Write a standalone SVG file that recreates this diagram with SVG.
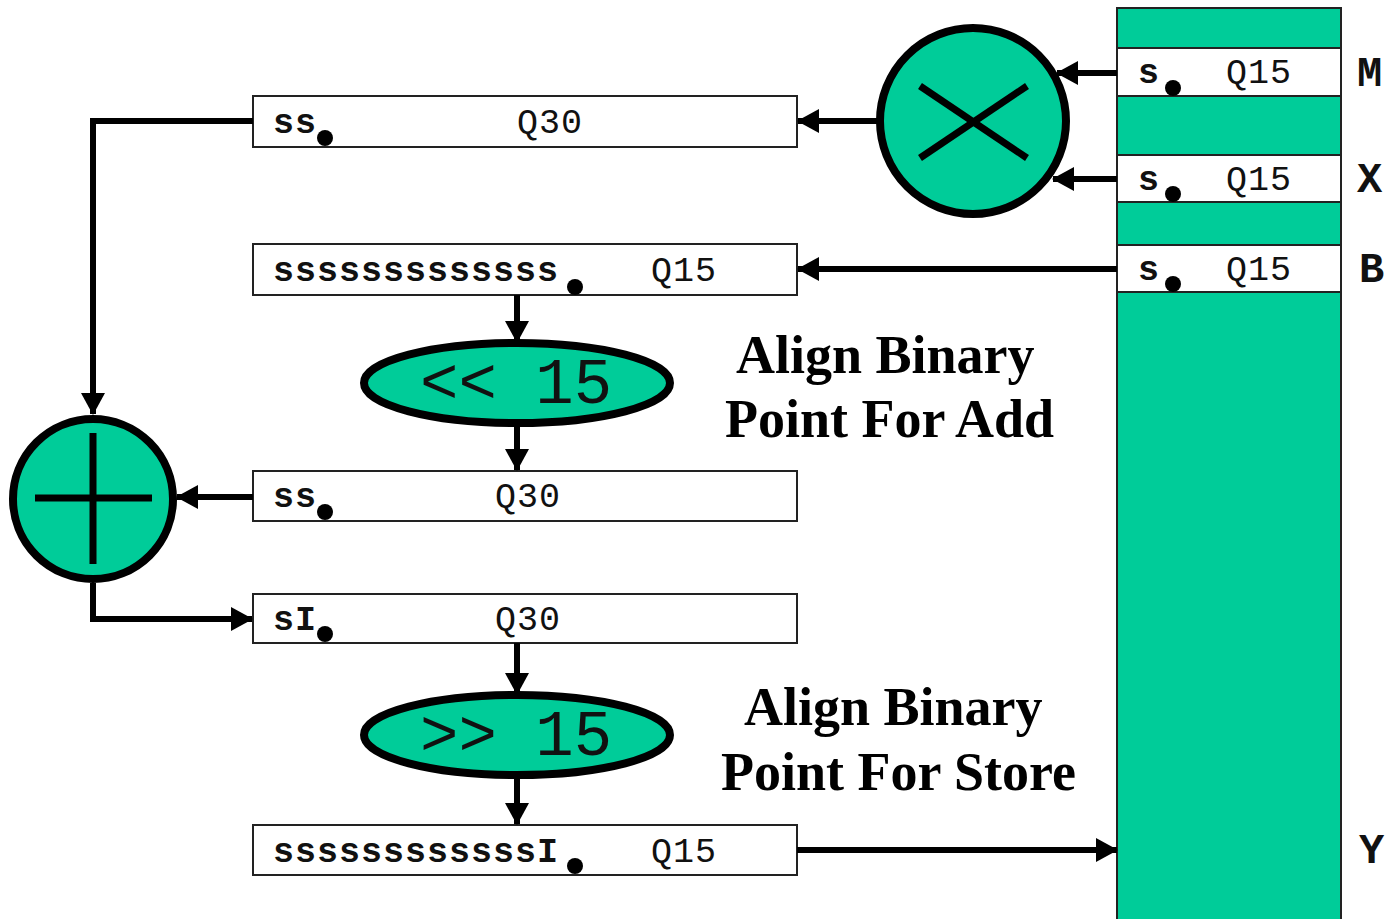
<svg xmlns="http://www.w3.org/2000/svg" width="1393" height="919" viewBox="0 0 1393 919">
<defs>
<marker id="ah" markerUnits="userSpaceOnUse" markerWidth="24" markerHeight="24" viewBox="0 0 22 24" refX="21" refY="12" orient="auto">
<path d="M0,0 L22,12 L0,24 Z" fill="#000"/>
</marker>
</defs>
<style>
.box{fill:#fff;stroke:#222;stroke-width:2}
.mem{fill:#00CC99;stroke:#222;stroke-width:2}
.op{fill:#00CC99;stroke:#000;stroke-width:8}
.sym{stroke:#000;stroke-width:7;fill:none}
.con{stroke:#000;stroke-width:6;fill:none}
.arr{stroke:#000;stroke-width:6;fill:none;marker-end:url(#ah)}
.bits{font-family:"Liberation Mono","Courier New",monospace;font-size:35px;font-weight:bold;letter-spacing:1px;fill:#111}
.q{font-family:"Liberation Mono","Courier New",monospace;font-size:35px;letter-spacing:1px;fill:#111}
.lbl{font-family:"Liberation Mono","Courier New",monospace;font-size:42px;font-weight:bold;fill:#111}
.big{font-family:"Liberation Mono","Courier New",monospace;font-size:64px;fill:#111}
.note{font-family:"Liberation Serif","Times New Roman",serif;font-size:54px;font-weight:bold;fill:#000}
.dot{fill:#000}
</style>

<g id="memory">
<rect class="mem" x="1117" y="8" width="224" height="920"/>
<g id="cellM">
<rect class="box" x="1117" y="48" width="224" height="48"/>
<text class="bits" x="1138" y="83">s</text>
<circle class="dot" cx="1173" cy="88" r="8"/>
<text class="q" x="1226" y="83">Q15</text>
</g>
<g id="cellX">
<rect class="box" x="1117" y="155" width="224" height="47"/>
<text class="bits" x="1138" y="190">s</text>
<circle class="dot" cx="1173" cy="194" r="8"/>
<text class="q" x="1226" y="190">Q15</text>
</g>
<g id="cellB">
<rect class="box" x="1117" y="245" width="224" height="47"/>
<text class="bits" x="1138" y="280">s</text>
<circle class="dot" cx="1173" cy="284" r="8"/>
<text class="q" x="1226" y="280">Q15</text>
</g>
<text class="lbl" x="1357" y="86">M</text>
<text class="lbl" x="1357" y="192">X</text>
<text class="lbl" x="1359" y="282">B</text>
<text class="lbl" x="1359" y="863">Y</text>
</g>

<g id="mult">
<circle class="op" cx="973" cy="121" r="93"/>
<line class="sym" x1="920" y1="86" x2="1027" y2="158"/>
<line class="sym" x1="920" y1="158" x2="1027" y2="86"/>
</g>

<g id="box1">
<rect class="box" x="253" y="96" width="544" height="51"/>
<text class="bits" x="273" y="133">ss</text>
<circle class="dot" cx="325" cy="138" r="8"/>
<text class="q" x="517" y="133">Q30</text>
</g>

<g id="box2">
<rect class="box" x="253" y="244" width="544" height="51"/>
<text class="bits" x="273" y="281">sssssssssssss</text>
<circle class="dot" cx="575" cy="287" r="8"/>
<text class="q" x="651" y="281">Q15</text>
</g>

<g id="shl">
<ellipse class="op" cx="517" cy="383" rx="153" ry="40"/>
<text class="big" x="420" y="403">&lt;&lt; 15</text>
</g>

<g id="box3">
<rect class="box" x="253" y="471" width="544" height="50"/>
<text class="bits" x="273" y="507">ss</text>
<circle class="dot" cx="325" cy="512" r="8"/>
<text class="q" x="495" y="507">Q30</text>
</g>

<g id="adder">
<circle class="op" cx="93" cy="499" r="80"/>
<line class="sym" x1="35" y1="498" x2="152" y2="498"/>
<line class="sym" x1="93" y1="433" x2="93" y2="564"/>
</g>

<g id="box4">
<rect class="box" x="253" y="594" width="544" height="49"/>
<text class="bits" x="273" y="630">sI</text>
<circle class="dot" cx="325" cy="634" r="8"/>
<text class="q" x="495" y="630">Q30</text>
</g>

<g id="shr">
<ellipse class="op" cx="517" cy="735" rx="153" ry="40"/>
<text class="big" x="420" y="755">&gt;&gt; 15</text>
</g>

<g id="box5">
<rect class="box" x="253" y="825" width="544" height="50"/>
<text class="bits" x="273" y="862">ssssssssssssI</text>
<circle class="dot" cx="575" cy="866" r="8"/>
<text class="q" x="651" y="862">Q15</text>
</g>

<g id="notes">
<text class="note" x="736" y="373">Align Binary</text>
<text class="note" x="725" y="437">Point For Add</text>
<text class="note" x="744" y="725">Align Binary</text>
<text class="note" x="721" y="790">Point For Store</text>
</g>

<g id="connectors">
<line class="arr" x1="1117" y1="73" x2="1057" y2="73"/>
<line class="arr" x1="1117" y1="179" x2="1053" y2="179"/>
<line class="arr" x1="877" y1="121" x2="798" y2="121"/>
<line class="arr" x1="1117" y1="269" x2="798" y2="269"/>
<polyline class="arr" points="253,121 93,121 93,414"/>
<line class="arr" x1="517" y1="295" x2="517" y2="342"/>
<line class="arr" x1="517" y1="423" x2="517" y2="470"/>
<line class="arr" x1="253" y1="497" x2="177" y2="497"/>
<polyline class="arr" points="93,583 93,619 252,619"/>
<line class="arr" x1="517" y1="643" x2="517" y2="694"/>
<line class="arr" x1="517" y1="775" x2="517" y2="824"/>
<line class="arr" x1="797" y1="850" x2="1117" y2="850"/>
</g>
</svg>
